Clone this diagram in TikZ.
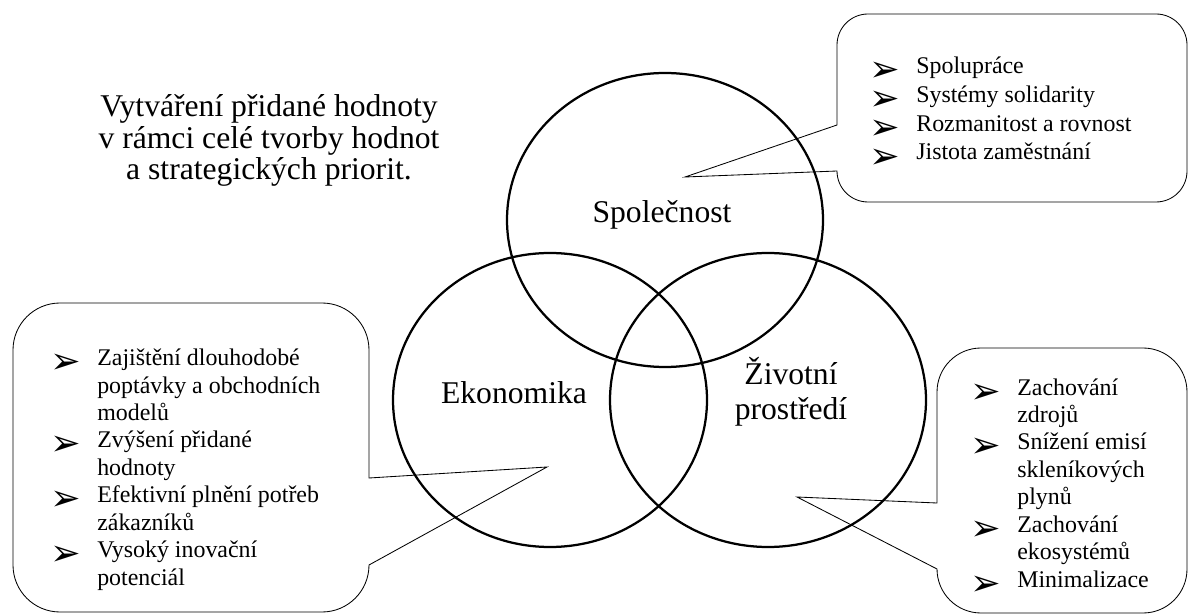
\documentclass[tikz,border=0pt]{standalone}
\usepackage{fontspec}
\setmainfont{Liberation Serif}
\newfontfamily\dejavu{DejaVu Sans}
\newcommand{\bul}{\makebox[1.175cm][l]{\smash{\raisebox{-5.7pt}{\dejavu\fontsize{26}{26}\selectfont ➢}}}}
\newcommand{\ind}{\hspace*{1.175cm}}

\begin{document}
\begin{tikzpicture}[x=0.025cm,y=-0.025cm,
  ring/.style={line width=1.6pt},
  bubble/.style={line width=0.6pt},
  circlab/.style={font=\fontsize{22.5}{22.4}\selectfont,align=center,inner sep=0pt,anchor=base},
  items/.style={font=\fontsize{17}{19.5}\selectfont,align=left,inner sep=0pt,anchor=base west}]
  \useasboundingbox (0,0) rectangle (1188,615);
  % the three circles
  \draw[ring] (665,220) ellipse [x radius=158, y radius=147];
  \draw[ring] (550,400) ellipse [x radius=157, y radius=147];
  \draw[ring] (768,400) ellipse [x radius=158, y radius=147];

  % multi-line nodes sit on their last line
  \node[circlab] (title) at (269,180) {Vytváření přidané hodnoty\\v rámci celé tvorby hodnot\\a strategických priorit.};
  \node[circlab] (spol) at (662,223) {Společnost};
  \node[circlab] (ekon) at (514,404) {Ekonomika};
  \node[circlab,font=\fontsize{22.5}{25}\selectfont] (ziv) at (791,420) {Životní\\prostředí};

  \coordinate (spoltip) at (685,177);
  \coordinate (ekontip) at (547,467);
  \coordinate (zivtip) at (797,497);

  % callouts
  \draw[bubble] (837,125) -- (837,45) arc[start angle=180,end angle=270,radius=31]
    -- (1156,14) arc[start angle=270,end angle=360,radius=31]
    -- (1187,171) arc[start angle=0,end angle=90,radius=31]
    -- (868,202) arc[start angle=90,end angle=180,radius=31]
    -- (spoltip) -- cycle;
  \draw[bubble] (369,478) -- (ekontip) -- (369,565) arc[start angle=0,end angle=90,radius=47]
    -- (60,612) arc[start angle=90,end angle=180,radius=47]
    -- (13,350) arc[start angle=180,end angle=270,radius=47]
    -- (322,303) arc[start angle=270,end angle=360,radius=47]
    -- cycle;
  \draw[bubble] (937,503) -- (937,392) arc[start angle=180,end angle=270,radius=44]
    -- (1143,348) arc[start angle=270,end angle=360,radius=44]
    -- (1187,569) arc[start angle=0,end angle=90,radius=44]
    -- (981,613) arc[start angle=90,end angle=180,radius=44]
    -- (zivtip) -- cycle;

  \node[items,font=\fontsize{17}{20.4}\selectfont] (spolitems) at (869,160) {\bul Spolupráce\\\bul Systémy solidarity\\\bul Rozmanitost a rovnost\\\bul Jistota zaměstnání};
  \node[items] (ekonitems) at (50,585) {\bul Zajištění dlouhodobé\\\ind poptávky a obchodních\\\ind modelů\\\bul Zvýšení přidané\\\ind hodnoty\\\bul Efektivní plnění potřeb\\\ind zákazníků\\\bul Vysoký inovační\\\ind potenciál};
  \node[items] (zivitems) at (970,587) {\bul Zachování\\\ind zdrojů\\\bul Snížení emisí\\\ind skleníkových\\\ind plynů\\\bul Zachování\\\ind ekosystémů\\\bul Minimalizace};
\end{tikzpicture}
\end{document}
